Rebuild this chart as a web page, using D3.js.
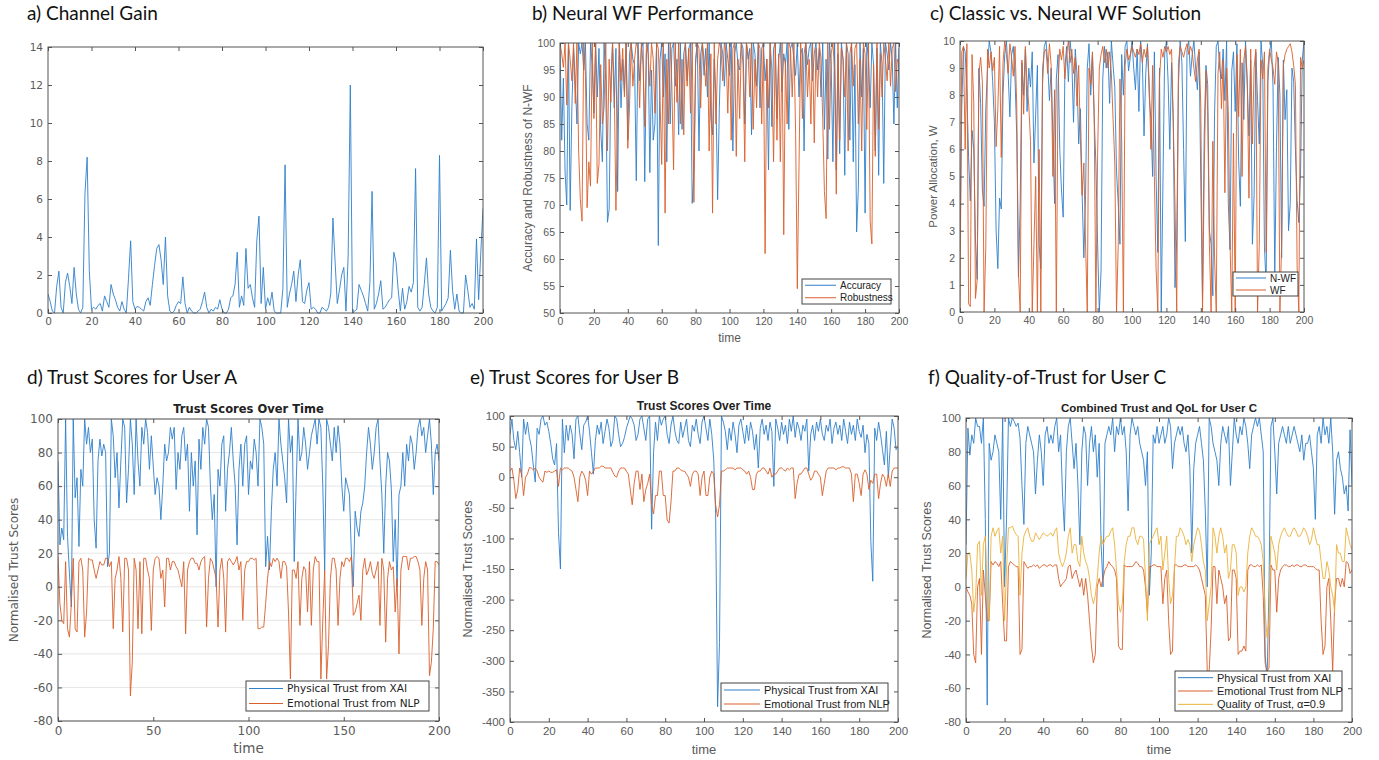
<!DOCTYPE html>
<html>
<head>
<meta charset="utf-8">
<script src="https://cdn.jsdelivr.net/npm/d3@7"></script>
<style>
    body { margin: 0; background: #fff; }
    .heading { font-family: Lato, "Open Sans", sans-serif; font-size: 19px; fill: #111; }
</style>
</head>
<body>
<div id="chart-area"></div>
<script>
/*
*    six panels of trust / water-filling traces, time 0..200
*/

// a) channel gain
const channelGain = [
    1.0, 0.6, 0.1, 0.0, 1.4, 2.2, 0.3, 0.0, 1.6, 2.1,
    1.4, 0.5, 2.4, 1.0, 0.2, 0.0, 0.3, 6.3, 8.2, 2.2,
    0.2, 0.3, 0.2, 0.4, 0.5, 0.1, 0.9, 0.6, 0.3, 1.5,
    1.0, 0.7, 0.3, 0.1, 0.6, 0.2, 0.0, 1.8, 3.8, 0.6,
    0.2, 0.35, 0.3, 0.2, 0.1, 0.6, 0.8, 0.4, 1.5, 2.5,
    3.4, 3.6, 2.8, 1.5, 4.0, 0.9, 0.1, 0.0, 0.1, 0.4,
    0.6, 0.5, 1.9, 0.5, 0.0, 0.3, 0.1, 0.0, 0.0, 0.1,
    0.2, 0.6, 1.1, 0.3, 0.0, 0.2, 0.1, 0.3, 0.2, 0.7,
    0.2, 0.0, 0.0, 0.2, 0.8, 0.9, 1.5, 3.2, 0.3, 0.9,
    0.4, 3.4, 1.3, 1.5, 0.8, 0.3, 3.8, 5.1, 0.5, 2.4,
    0.2, 0.8, 0.4, 1.1, 0.1, 0.0, 0.0, 0.0, 1.3, 7.8,
    0.3, 1.0, 1.5, 2.2, 0.6, 2.0, 2.8, 0.6, 0.5, 1.2,
    1.6, 0.2, 0.3, 0.2, 0.0, 0.0, 0.3, 0.2, 0.1, 0.3,
    1.0, 5.0, 2.7, 0.5, 1.2, 2.0, 2.4, 0.1, 3.0, 12.0,
    0.0, 0.1, 0.2, 1.5, 1.2, 0.9, 0.5, 0.1, 1.6, 6.4,
    0.2, 0.5, 1.0, 1.7, 0.2, 0.3, 0.5, 0.7, 0.8, 3.2,
    2.7, 1.2, 0.1, 1.3, 0.2, 0.6, 1.4, 1.1, 1.6, 7.6,
    0.3, 0.1, 0.3, 1.5, 2.9, 1.0, 0.3, 0.1, 0.0, 0.3,
    8.3, 0.1, 0.3, 0.5, 0.8, 3.3, 1.2, 0.2, 1.0, 0.1,
    0.0, 0.0, 2.0, 1.2, 0.3, 0.5, 0.2, 3.9, 0.7, 3.2,
    5.5
];

// b) neural WF performance
const accuracy = [
    100, 82, 93.5, 76, 70, 100, 69, 88, 99, 93,
    85, 100, 98, 100, 95, 100, 85, 82, 100, 96,
    87, 100, 90, 99, 84, 78, 100, 93, 66.8, 69.2,
    93, 100, 88, 99, 72.5, 100, 88, 97, 91, 100,
    82, 98, 100, 97, 96, 74.5, 100, 93, 99, 100,
    74.3, 98, 100, 76, 95, 82, 85, 100, 62.5, 97,
    100, 90, 98, 78, 100, 85, 99, 100, 92, 97,
    83, 100, 84, 98, 100, 93, 99, 100, 70.3, 76,
    97, 100, 80, 98, 100, 94, 99, 90, 100, 86,
    83, 97, 90, 71, 88, 100, 98, 92, 100, 97,
    94, 100, 80, 98, 100, 96, 95, 100, 99, 85,
    100, 97, 99, 83, 100, 98, 92, 100, 88, 99,
    100, 93, 97, 76.5, 100, 84.5, 99, 100, 86, 97,
    100, 91, 98, 96, 100, 84, 99, 100, 97, 94,
    100, 90, 98, 99, 80, 100, 96, 99, 100, 93,
    98, 100, 95, 99, 90, 100, 84, 97, 78.5, 100,
    96, 78, 100, 76.5, 98, 79.5, 100, 97, 75.5, 100,
    98, 82, 100, 78, 96, 65, 73, 100, 90, 99,
    68.5, 100, 97, 88, 100, 96, 80, 99, 75.5, 100,
    96, 74, 100, 98, 95, 100, 97, 85, 100, 88,
    99
];
const robustness = [
    100, 98, 95.5, 100, 88.5, 100, 97, 93, 100, 88.8,
    100, 80, 71, 67, 100, 94, 69.5, 78, 73.5, 100,
    86, 100, 74, 77.5, 96, 85, 88, 100, 80, 97,
    89, 100, 92, 69, 87, 100, 93, 99, 90, 100,
    80.5, 88, 100, 92, 97, 100, 99, 88, 100, 96,
    84.5, 100, 98, 92, 100, 97, 87, 100, 99, 90,
    77.5, 100, 68.5, 97, 85, 100, 92, 76.5, 100, 89,
    100, 85, 97, 83, 100, 92, 99, 87, 100, 70.5,
    96, 100, 99, 88, 100, 97, 92, 100, 80, 98,
    68.5, 100, 85, 97, 100, 99, 93, 100, 98, 87,
    100, 82, 99, 100, 79, 97, 86, 100, 96, 78,
    100, 98, 90, 100, 84, 97, 88, 100, 99, 85,
    100, 61, 97, 88, 100, 95, 78, 100, 82, 98,
    78, 100, 64.5, 97, 85, 100, 99, 90, 100, 83.5,
    54.5, 77, 100, 86, 98, 100, 90, 97, 85, 100,
    81.5, 99, 90, 100, 97, 86, 72.5, 67.5, 100, 84,
    98, 100, 95, 72, 100, 82, 99, 97, 90, 100,
    80, 98, 100, 92, 99, 100, 85, 97, 80, 100,
    98, 84, 100, 67, 62.8, 96, 79, 100, 84, 98,
    90, 100, 97, 93, 100, 92, 99, 100, 91, 97,
    96
];

// c) classic vs neural WF power
const powerNWF = [
    2.4, 7.5, 9.8, 9.6, 8.1, 5.7, 4.1, 6.7, 6.0, 2.7,
    1.2, 9.0, 7.7, 4.5, 3.9, 7.5, 9.0, 10, 9.6, 8.5,
    7.0, 3.0, 1.6, 4.2, 3.8, 8.0, 9.5, 10, 8.8, 7.2,
    9.5, 9.8, 8.6, 6.5, 1.3, 4.0, 9.2, 8.0, 9.7, 7.4,
    9.0, 8.3, 9.6, 5.5, 7.3, 9.1, 2.5, 1.6, 8.4, 9.8,
    10, 9.2, 7.8, 9.0, 6.5, 4.0, 8.6, 9.5, 6.0, 4.5,
    3.5, 9.0, 9.8, 8.5, 10, 9.3, 7.0, 9.7, 8.8, 6.2,
    7.5, 4.4, 2.0, 4.3, 9.0, 9.9, 8.0, 9.5, 7.2, 5.5,
    2.5, 0.0, 1.5, 8.6, 9.8, 9.0, 9.6, 7.7, 10, 9.1,
    8.3, 5.2, 4.0, 2.5, 9.5, 8.0, 9.8, 10, 8.9, 9.4,
    10, 9.0, 8.2, 9.7, 7.4, 10, 9.3, 6.5, 8.8, 9.9,
    8.0, 7.1, 5.0, 9.6, 5.0, 2.2, 9.0, 0.0, 4.8, 9.5,
    10, 8.5, 6.0, 9.2, 7.0, 0.9, 2.7, 8.4, 10, 9.2,
    6.0, 2.6, 9.7, 10, 8.7, 9.5, 10, 9.0, 8.2, 9.6,
    4.8, 0.5, 6.6, 9.1, 8.4, 3.0, 2.5, 0.6, 7.3, 9.8,
    10, 9.0, 8.6, 9.7, 7.8, 10, 4.0, 2.3, 8.9, 9.6,
    7.4, 9.9, 5.6, 3.9, 9.2, 7.1, 10, 8.4, 6.5, 9.3,
    2.5, 4.3, 9.6, 7.8, 6.2, 10, 9.1, 2.4, 1.0, 8.5,
    9.6, 10, 8.3, 1.3, 6.1, 9.4, 8.0, 2.0, 9.3, 7.1,
    8.2, 3.0, 4.0, 9.0, 8.5, 6.0, 4.1, 3.3, 5.2, 9.3,
    10
];
const powerWF = [
    0.0, 9.6, 9.8, 6.0, 9.9, 0.3, 0.2, 9.5, 7.7, 0.5,
    1.2, 8.8, 9.4, 8.5, 0.0, 2.4, 9.7, 9.0, 9.6, 8.9,
    9.4, 6.1, 7.5, 9.8, 5.7, 9.2, 10, 9.5, 8.8, 9.9,
    9.4, 8.7, 9.8, 7.6, 1.4, 0.0, 9.3, 7.3, 9.8, 8.4,
    7.6, 6.3, 0.0, 2.5, 5.0, 0.0, 6.0, 0.0, 9.0, 9.6,
    9.7, 8.8, 9.9, 9.1, 5.0, 8.2, 0.0, 8.4, 9.7, 9.3,
    9.8, 8.6, 9.5, 10, 9.2, 9.7, 8.8, 9.4, 7.6, 9.1,
    6.4, 4.3, 5.5, 2.5, 0.0, 9.0, 8.4, 9.6, 7.4, 0.0,
    5.8, 9.0, 9.5, 9.8, 9.2, 9.7, 9.0, 9.6, 8.8, 7.1,
    5.5, 0.0, 2.5, 8.6, 6.3, 0.0, 9.1, 9.7, 9.3, 9.5,
    9.8, 9.6, 9.4, 9.7, 9.5, 9.9, 9.2, 9.7, 9.4, 9.8,
    8.5, 6.0, 9.1, 5.0, 1.6, 0.0, 8.6, 9.7, 9.4, 9.8,
    9.6, 9.8, 9.5, 9.7, 7.0, 4.0, 0.0, 9.2, 9.8, 9.6,
    9.4, 9.7, 9.9, 9.5, 9.8, 9.6, 9.0, 8.5, 9.3, 9.7,
    7.6, 0.0, 5.2, 8.9, 7.4, 2.5, 0.0, 6.3, 2.0, 0.0,
    8.8, 9.6, 7.5, 9.3, 4.4, 9.0, 7.4, 2.5, 0.0, 6.6,
    0.0, 9.5, 7.2, 9.7, 5.0, 9.3, 9.8, 8.6, 4.2, 9.7,
    6.2, 9.0, 9.7, 0.0, 2.5, 9.3, 8.6, 9.6, 2.2, 9.0,
    9.7, 9.3, 9.0, 8.4, 9.6, 9.2, 0.0, 2.5, 9.1, 9.5,
    9.7, 9.8, 9.9, 9.6, 9.1, 8.4, 1.7, 0.0, 9.4, 9.0,
    9.3
];

// d) user A
const physicalA = [
    75, 25, 35, 28, 100, 30, 8, -12, 100, 53,
    65, 24, 70, 60, 100, 85, 95, 80, 88, 40,
    23, 75, 88, 78, 85, 80, 12, 20, 100, 90,
    65, 80, 47, 75, 100, 95, 50, 70, 100, 85,
    55, 100, 75, 60, 95, 85, 100, 92, 70, 90,
    72, 55, 65, 60, 40, 60, 85, 75, 80, 95,
    88, 95, 58, 80, 70, 90, 95, 75, 85, 45,
    80, 60, 75, 31, 88, 70, 95, 85, 100, 95,
    60, 40, 55, 0, 70, 60, 85, 90, 45, 70,
    80, 95, 75, 60, 25, 70, 85, 60, 85, 90,
    55, 75, 70, 88, 80, 60, 100, 95, 85, 12,
    30, 10, 45, 70, 80, 60, 100, 85, 75, 65,
    50, 100, 80, 90, 15, 60, 100, 75, 80, 95,
    85, 70, 80, 90, 95, 100, 85, 100, 95, 60,
    10, 100, 95, 85, 75, 95, 80, 96, 85, 60,
    45, 65, 60, 55, 20, 0, 45, 35, 30, 45,
    50, 60, 80, 95, 85, 70, 80, 95, 100, 75,
    55, 20, 60, 80, 75, 58, 15, 40, 0, 55,
    60, 80, 60, 85, 75, 90, 85, 70, 80, 95,
    100, 90, 95, 80, 90, 100, 85, 55, 80, 85,
    75
];
const emotionalA = [
    18, -10, -20, -22, 15, -25, -30, -10, 17, -25,
    -27, 15, 17, 10, -30, -15, 17, 16, 16, 10,
    5, 10, 15, 13, 13, 17, 17, 12, 15, -25,
    5, 10, 18, 5, -27, 17, 17, 10, -65, -45,
    17, 10, -25, 15, -28, 17, 17, 10, 5, -26,
    10, 17, 18, 17, 5, 10, -12, 17, 17, 10,
    15, 15, 12, 10, 5, 0, 15, -28, 10, 15,
    17, 17, 14, 14, 10, 15, 17, 18, -24, 5,
    17, 15, 10, 5, -24, 10, 17, 5, -27, 15,
    17, 15, 13, 15, 18, 10, 15, -20, 10, 15,
    15, 17, 17, 16, 17, -25, -25, -24, -24, -10,
    5, 15, 12, 17, 15, 17, 15, 5, 15, 15,
    12, -15, -55, 10, 10, 5, 15, -23, 5, 12,
    10, -15, 15, -23, 10, 18, 15, 15, -55, -20,
    10, -55, -35, 5, 17, 17, 10, -23, 5, 15,
    12, 17, 17, 15, 18, -17, -15, -10, -5, -20,
    10, 17, 7, 10, 15, 8, 5, 10, 15, -23,
    17, 10, -33, 5, 15, 10, 12, -15, 5, -40,
    10, 18, 18, 18, 10, 17, 17, 18, 18, 15,
    10, -23, 5, 15, 10, -53, -45, -25, 15, 15,
    13
];

// e) user B
const physicalB = [
    70, 95, 60, 45, 75, 40, 0, 95, 70, 90,
    65, 50, 20, -8, 80, 70, 95, 100, 85, 90,
    75, 55, 30, 20, 55, -90, -150, 95, 40, 85,
    60, 85, 70, 30, 95, 100, 70, 45, 85, 90,
    100, 75, 40, 5, 60, 85, 70, 90, 55, 75,
    95, 80, 50, 60, 100, 95, 70, 50, 55, 65,
    80, 90, 100, 95, 85, 60, 70, 95, 100, 80,
    60, 95, 100, -85, 40, 90, 60, 100, 85, 95,
    100, 70, 55, 85, 100, 75, 60, 55, 90, 65,
    80, 95, 60, 50, 85, 75, 95, 70, 55, 90,
    100, 80, 60, 95, 70, 30, -60, -375, -270, 100,
    90, 75, 45, 80, 60, 90, 70, 40, 85, 95,
    75, 55, 85, 60, 90, 75, 45, 70, 15, 80,
    95, 70, 85, 60, 90, 75, -15, 95, 80, 60,
    90, 70, 85, 55, 95, 75, 100, 65, 90, 80,
    60, 85, 75, 95, 10, 70, 85, 60, 90, 75,
    95, 70, 60, 85, 75, 95, 55, 80, 90, 70,
    85, 60, 95, 75, 55, 90, 70, 85, 60, 95,
    75, 65, 85, 40, 70, 55, -105, -170, 80, 60,
    90, 70, 45, 20, 75, 0, 50, 95, 80, 45,
    50
];
const emotionalB = [
    10, 15, -5, -35, -20, 15, 5, -30, 0, 5,
    16, 15, 12, 15, 10, 0, -5, -8, 10, 8,
    10, 8, 8, 10, 12, -15, 15, 12, 15, 15,
    15, 12, 10, 0, -20, -40, 0, 10, 5, -5,
    -30, 10, 5, 10, 15, 15, 15, 18, 18, 15,
    15, 15, 15, 8, 2, 0, 10, 15, 15, 15,
    10, 5, -20, -45, -10, 10, 10, -20, 5, -40,
    -20, -10, 5, -45, -60, -30, -30, 10, 10, -30,
    -30, -70, -75, -40, 10, 10, 15, 15, 12, 10,
    10, 5, 0, -15, 5, 10, 10, 5, -30, 0,
    10, -30, -30, 0, 10, 5, -45, -65, -45, 10,
    10, 12, 15, 15, 15, 15, 12, 15, 15, 15,
    12, 10, 5, 10, 0, -20, -20, 5, 10, 10,
    15, 15, 10, 5, 15, 0, 5, 5, 10, 15,
    15, 12, 10, 15, 12, 15, 15, -35, -10, 5,
    5, 10, 15, 15, 5, -5, 0, 10, 10, 5,
    0, -30, -10, 10, 15, 15, 15, 15, 12, 15,
    15, 17, 17, 15, 15, 15, 5, -40, 5, 5,
    -10, -30, 5, 12, 5, -20, -5, -10, 5, 5,
    -35, -10, 5, 0, -15, 5, -15, 10, 15, 15,
    15
];

// f) user C
const physicalC = [
    25, 94, 78, 90, 85, 100, 95, 95, 85, 100,
    40, -70, 85, 75, 80, 90, 85, 80, 40, 100,
    0, 40, 100, 95, 100, 98, 95, 97, 88, 60,
    37, 85, 95, 90, 85, 80, 55, 75, 90, 80,
    60, 90, 95, 85, 90, 85, 95, 100, 80, 90,
    55, 33, 80, 95, 100, 85, 70, 85, 60, 25,
    80, 95, 90, 60, 85, 95, 80, 90, 65, 85,
    25, 0, 85, 90, 95, 90, 100, 80, 95, 90,
    100, 90, 95, 80, 45, 90, 100, 95, 90, 95,
    85, 80, 75, 60, 80, -5, 20, 90, 85, 95,
    85, 90, 95, 85, 90, 100, 95, 70, 85, 90,
    95, 90, 95, 85, 80, 90, 70, 20, 70, 85,
    90, 95, 85, 75, 45, 0, 100, 95, 85, 80,
    75, 60, 85, 95, 90, 85, 95, 60, 80, 100,
    90, 85, 95, 90, 100, 95, 85, 70, 90, 95,
    100, 95, 100, 90, 80, -40, -55, 0, 95, 100,
    80, 55, 85, 90, 95, 90, 85, 95, 85, 90,
    95, 90, 85, 80, 90, 75, 85, 85, 90, 80,
    70, 40, 90, 95, 85, 100, 90, 95, 85, 100,
    80, 43, 75, 80, 70, 65, 55, 60, 45, 93,
    60
];
const emotionalC = [
    0, -3, -5, -10, -40, -45, 0, 5, -40, 10,
    -5, -20, -20, 15, 13, 15, 14, 12, 15, -10,
    -32, -32, 12, 15, 14, 13, 12, 12, -40, -37,
    15, 13, 11, 12, 12, 13, 12, 13, 11, 12,
    13, 13, 12, 13, 13, 12, 13, 13, 5, 0,
    2, 3, 5, 12, 13, 5, 8, 10, 5, 0,
    5, -5, 5, -5, -20, -35, -45, -40, 0, 5,
    0, 5, 10, 12, 15, 13, 12, 10, 5, -35,
    -37, -37, 13, 12, 12, 12, 12, 13, 15, 14,
    12, 12, 10, 0, -15, 12, 12, 13, 13, 12,
    12, 12, -10, 5, 10, -20, -40, -38, 13, 13,
    12, 12, 12, 13, 13, 12, 12, 12, 12, 13,
    12, 10, 5, 0, -5, -50, -50, -25, 12, 12,
    -10, 10, 5, 0, -10, -5, -32, -30, 10, 10,
    5, -40, -38, -38, -35, -38, 10, 13, 13, 12,
    12, 13, 12, 13, -5, -45, -50, -48, 13, 10,
    10, -15, 5, 10, 12, 13, 13, 12, 12, 13,
    12, 13, 13, 12, 12, 13, 13, 12, 12, 12,
    12, 11, 10, 10, -20, -40, -35, 0, 5, -20,
    -50, -10, 5, 5, 0, 5, 0, 15, 14, 8,
    10
];
const qualityC = [
    5, 20, 20, 10, -15, -5, 25, 27, -5, 25,
    30, -5, -20, 30, 35, 30, 33, 35, 20, 30,
    -20, 10, 35, 35, 36, 33, 31, 30, -5, 20,
    30, 33, 35, 30, 27, 27, 32, 30, 28, 30,
    32, 31, 30, 31, 32, 30, 33, 35, 20, 15,
    12, 15, 20, 30, 35, 20, 25, 25, 15, 12,
    30, 20, 15, 12, 5, -5, -10, -5, 5, 20,
    30, 25, 28, 30, 30, 33, 35, 25, 10, -10,
    -15, -10, 15, 25, 30, 30, 35, 35, 28, 25,
    30, 30, 28, 5, -20, 25, 28, 30, 33, 35,
    25, 30, 10, 20, 30, 5, -10, -5, 10, 30,
    30, 35, 33, 30, 25, 28, 25, 15, 25, 30,
    35, 33, 25, 15, 10, -20, -10, 0, 35, 30,
    20, 30, 35, 30, 20, 25, 5, 10, 25, 25,
    20, -5, 0, 0, -3, 0, 20, 30, 35, 33,
    30, 30, 28, 25, 15, -15, -30, -20, 30, 25,
    20, 10, 25, 30, 33, 35, 32, 30, 30, 33,
    35, 33, 30, 30, 32, 35, 33, 30, 25, 28,
    35, 30, 25, 25, 15, 5, 5, 15, 10, 0,
    -5, -15, 25, 20, 20, 15, 15, 35, 30, 25,
    22
];

// tick labels
const ticks20 = [0, 20, 40, 60, 80, 100, 120, 140, 160, 180, 200];
const ticks50 = [0, 50, 100, 150, 200];
const gainTicks = [0, 2, 4, 6, 8, 10, 12, 14];
const perfTicks = [50, 55, 60, 65, 70, 75, 80, 85, 90, 95, 100];
const powerTicks = [0, 1, 2, 3, 4, 5, 6, 7, 8, 9, 10];
const trustTicks = [-80, -60, -40, -20, 0, 20, 40, 60, 80, 100];
const trustTicksB = [-400, -350, -300, -250, -200, -150, -100, -50, 0, 50, 100];

const BLUE = "#2f7fcb";
const ORANGE = "#d95f2b";
const YELLOW = "#ebb13a";

const svg = d3.select("#chart-area").append("svg")
    .attr("width", 1379)
    .attr("height", 760);

// plain hyphen minus, like the source plots
const plain = d => String(d);

function drawPanel(p) {
    const x = d3.scaleLinear().domain([0, 200]).range([p.left, p.right]);
    const y = d3.scaleLinear().domain(p.yDomain).range([p.bottom, p.top]);
    const g = svg.append("g");
    const font = p.font || "'Liberation Sans', Arial, sans-serif";
    const fs = p.fontSize || 11;

    if (p.grid) {
        g.append("g").selectAll("line").data(p.yTicks).enter()
            .append("line")
            .attr("x1", p.left).attr("x2", p.right)
            .attr("y1", d => y(d)).attr("y2", d => y(d))
            .attr("stroke", "#e6e6e6");
    }

    g.append("clipPath").attr("id", "clip-" + p.key)
        .append("rect")
        .attr("x", p.left).attr("y", p.top - 1)
        .attr("width", p.right - p.left).attr("height", p.bottom - p.top + 2);

    const line = d3.line().x((d, i) => x(i)).y(d => y(d));
    p.series.forEach(s => {
        g.append("path")
            .datum(s.values)
            .attr("clip-path", `url(#clip-${p.key})`)
            .attr("fill", "none")
            .attr("stroke", s.color)
            .attr("stroke-width", 1)
            .attr("stroke-opacity", 0.9)
            .attr("stroke-linejoin", "round")
            .attr("d", line);
    });

    const style = sel => {
        sel.select(".domain").remove();
        sel.selectAll("line").attr("stroke", "#555");
        sel.selectAll("text").attr("fill", "#5a5a5a")
            .style("font-family", font).style("font-size", fs + "px");
    };

    g.append("g").attr("transform", `translate(0,${p.bottom})`)
        .call(d3.axisBottom(x).tickValues(p.xTicks).tickFormat(plain)
            .tickSizeInner(-4).tickSizeOuter(0).tickPadding(p.xPad || 5))
        .call(style);
    g.append("g").attr("transform", `translate(0,${p.top})`)
        .call(d3.axisTop(x).tickValues(p.xTicks).tickSizeInner(-4).tickSizeOuter(0).tickFormat(""))
        .call(style);
    g.append("g").attr("transform", `translate(${p.left},0)`)
        .call(d3.axisLeft(y).tickValues(p.yTicks).tickFormat(plain)
            .tickSizeInner(-4).tickSizeOuter(0).tickPadding(p.yPad || 5))
        .call(style);
    g.append("g").attr("transform", `translate(${p.right},0)`)
        .call(d3.axisRight(y).tickValues(p.yTicks).tickSizeInner(-4).tickSizeOuter(0).tickFormat(""))
        .call(style);

    g.append("rect")
        .attr("x", p.left).attr("y", p.top)
        .attr("width", p.right - p.left).attr("height", p.bottom - p.top)
        .attr("fill", "none").attr("stroke", "#555").attr("stroke-width", 1);

    g.append("text")
        .attr("class", "heading")
        .attr("x", p.headX).attr("y", p.headY)
        .text(p.heading);

    if (p.title) {
        g.append("text")
            .attr("x", (p.left + p.right) / 2).attr("y", p.top - 6)
            .attr("text-anchor", "middle")
            .style("font-family", font).style("font-weight", "bold")
            .style("font-size", p.titleSize + "px").attr("fill", "#222")
            .text(p.title);
    }
    if (p.xLabel) {
        g.append("text")
            .attr("x", (p.left + p.right) / 2).attr("y", p.xLabelY)
            .attr("text-anchor", "middle")
            .style("font-family", font).style("font-size", (fs + 1.5) + "px")
            .attr("fill", "#5a5a5a")
            .text(p.xLabel);
    }
    if (p.yLabel) {
        g.append("text")
            .attr("transform", `translate(${p.yLabelX},${(p.top + p.bottom) / 2}) rotate(-90)`)
            .attr("text-anchor", "middle")
            .style("font-family", font).style("font-size", p.yLabelSize + "px")
            .attr("fill", "#5a5a5a")
            .text(p.yLabel);
    }

    if (p.legend) {
        const L = p.legend;
        const rowH = (L.y1 - L.y0) / p.series.length;
        const lg = g.append("g");
        lg.append("rect")
            .attr("x", L.x0).attr("y", L.y0)
            .attr("width", L.x1 - L.x0).attr("height", L.y1 - L.y0)
            .attr("fill", "#fff").attr("stroke", "#444");
        p.series.forEach((s, i) => {
            const cy = L.y0 + rowH * (i + 0.5);
            lg.append("line")
                .attr("x1", L.x0 + 3).attr("x2", L.x0 + L.lineW)
                .attr("y1", cy).attr("y2", cy)
                .attr("stroke", s.color).attr("stroke-width", 1);
            lg.append("text")
                .attr("x", L.x0 + L.lineW + 4).attr("y", cy + L.fontSize * 0.36)
                .style("font-family", font).style("font-size", L.fontSize + "px")
                .attr("fill", "#222")
                .text(s.name);
        });
    }
}

const dejavu = "'DejaVu Sans', sans-serif";

drawPanel({
    key: "a", heading: "a) Channel Gain", headX: 27, headY: 20,
    left: 48, top: 47, right: 483, bottom: 313,
    yDomain: [0, 14], yTicks: gainTicks, xTicks: ticks20,
    font: dejavu, fontSize: 10.5, xPad: 5,
    series: [{ name: "gain", values: channelGain, color: BLUE }]
});

drawPanel({
    key: "b", heading: "b) Neural WF Performance", headX: 532, headY: 20,
    left: 560, top: 43, right: 899, bottom: 313,
    yDomain: [50, 100], yTicks: perfTicks, xTicks: ticks20,
    fontSize: 10.5, xLabel: "time", xLabelY: 342,
    yLabel: "Accuracy and Robustness of N-WF", yLabelX: 532, yLabelSize: 12,
    series: [
        { name: "Accuracy", values: accuracy, color: BLUE },
        { name: "Robustness", values: robustness, color: ORANGE }
    ],
    legend: { x0: 802, y0: 279, x1: 891, y1: 304, lineW: 34, fontSize: 10 }
});

drawPanel({
    key: "c", heading: "c) Classic vs. Neural WF Solution", headX: 930, headY: 20,
    left: 960, top: 41, right: 1304, bottom: 312,
    yDomain: [0, 10], yTicks: powerTicks, xTicks: ticks20,
    fontSize: 10.5,
    yLabel: "Power Allocation, W", yLabelX: 937, yLabelSize: 11.5,
    series: [
        { name: "N-WF", values: powerNWF, color: BLUE },
        { name: "WF", values: powerWF, color: ORANGE }
    ],
    legend: { x0: 1233, y0: 272, x1: 1298, y1: 296, lineW: 33, fontSize: 10 }
});

drawPanel({
    key: "d", heading: "d) Trust Scores for User A", headX: 27, headY: 384,
    left: 58, top: 419, right: 439, bottom: 721,
    yDomain: [-80, 100], yTicks: trustTicks, xTicks: ticks50,
    font: dejavu, fontSize: 12, grid: true,
    title: "Trust Scores Over Time", titleSize: 11.5,
    xLabel: "time", xLabelY: 753,
    yLabel: "Normalised Trust Scores", yLabelX: 18, yLabelSize: 12,
    series: [
        { name: "Physical Trust from XAI", values: physicalA, color: BLUE },
        { name: "Emotional Trust from NLP", values: emotionalA, color: ORANGE }
    ],
    legend: { x0: 246, y0: 681, x1: 429, y1: 711, lineW: 37, fontSize: 10.5 }
});

drawPanel({
    key: "e", heading: "e) Trust Scores for User B", headX: 470, headY: 384,
    left: 510, top: 416, right: 898, bottom: 722,
    yDomain: [-400, 100], yTicks: trustTicksB, xTicks: ticks20,
    fontSize: 11.5,
    title: "Trust Scores Over Time", titleSize: 12,
    xLabel: "time", xLabelY: 754,
    yLabel: "Normalised Trust Scores", yLabelX: 472, yLabelSize: 12.5,
    series: [
        { name: "Physical Trust from XAI", values: physicalB, color: BLUE },
        { name: "Emotional Trust from NLP", values: emotionalB, color: ORANGE }
    ],
    legend: { x0: 721, y0: 683, x1: 888, y1: 711, lineW: 39, fontSize: 11 }
});

drawPanel({
    key: "f", heading: "f) Quality-of-Trust for User C", headX: 928, headY: 384,
    left: 966, top: 418, right: 1352, bottom: 722,
    yDomain: [-80, 100], yTicks: trustTicks, xTicks: ticks20,
    fontSize: 11.5,
    title: "Combined Trust and QoL for User C", titleSize: 11.5,
    xLabel: "time", xLabelY: 754,
    yLabel: "Normalised Trust Scores", yLabelX: 931, yLabelSize: 12.5,
    series: [
        { name: "Physical Trust from XAI", values: physicalC, color: BLUE },
        { name: "Emotional Trust from NLP", values: emotionalC, color: ORANGE },
        { name: "Quality of Trust, \u03b1=0.9", values: qualityC, color: YELLOW }
    ],
    legend: { x0: 1175, y0: 671, x1: 1342, y1: 711, lineW: 38, fontSize: 11 }
});
</script>
</body>
</html>
